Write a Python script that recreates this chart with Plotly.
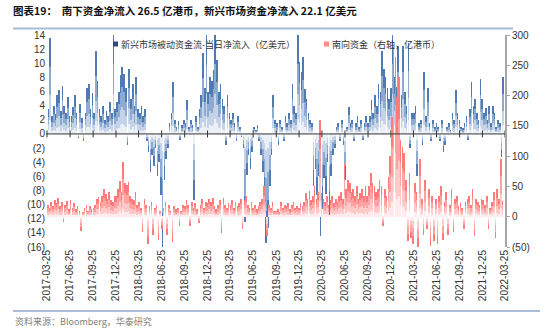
import plotly.graph_objects as go
import pandas as pd

TITLE = "图表19：  南下资金净流入 26.5 亿港币，新兴市场资金净流入 22.1 亿美元"
SOURCE = "资料来源：Bloomberg，华泰研究"
EM_NAME = "新兴市场被动资金流-当日净流入（亿美元）"
SB_NAME = "南向资金（右轴，亿港币）"

# Emerging-market passive fund flows, 亿美元 (left axis), weekly samples
em_flow = [
    3.5, 13.6, 2.5, 4.0, 2.8, 5.5, 6.2, 3.2, 6.8, 4.0, 3.0, 5.2, 2.5,
    2.5, 3.8, 5.5, 3.0, -0.6, 4.2, 2.2, -1.0, 3.0, 6.5, 7.0, 3.5, 5.8,
    3.0, 11.8, 7.5, 3.5, 2.5, 4.0, 2.0, 3.2, 2.5, 4.5, 3.0, 14.2, 3.5,
    4.5, 6.0, 8.3, 9.5, 8.5, 6.5, -1.6, 9.2, 5.0, 7.0, 4.0, 8.0, 3.5,
    3.0, 4.0, 2.5, 3.5, -1.0, -2.5, -5.4, -3.0, -4.5, -2.0, -6.0, -4.0, -8.7,
    -16.0, -6.5, -3.5, -2.0, 1.5, 3.0, 7.4, 2.0, 1.0, 1.8, -0.8, 1.2, 2.0,
    1.5, 4.8, 1.0, 2.0, 1.2, -9.3, 2.5, 1.0, 3.5, 5.5, 11.4, 6.5, 14.0,
    6.0, 8.0, 7.5, 9.0, 14.2, 10.4, 6.0, 7.0, 5.0, 4.0, -1.5, 5.5, 3.0,
    2.0, 3.0, 1.5, -1.0, 2.5, 1.0, -0.5, -2.0, -12.5, -5.8, -3.0, -4.9, -2.5,
    1.0, 0.5, 1.2, -1.0, -3.0, -5.4, -8.7, -15.5, -13.3, -7.3, -3.0, 5.5, 2.0,
    1.5, -1.5, 2.0, 1.0, -1.0, 2.5, 1.5, 3.0, 2.0, 7.1, 4.0, 3.0, 14.2,
    10.2, 8.8, 10.9, 6.4, 5.0, 3.0, 2.0, 1.5, -7.3, -5.0, -8.7, -6.0, -14.5,
    -10.6, -6.3, -8.5, -4.0, -11.5, -6.0, -3.0, -2.0, 1.0, 1.5, -1.0, 2.0, -1.5,
    -6.5, 1.0, 3.8, 1.5, 2.0, -1.0, 1.5, 2.5, 1.0, 2.0, -0.8, 1.5, 2.5,
    1.5, 2.5, 4.8, 3.0, 5.5, 4.0, 7.0, 6.0, 11.8, 9.2, 8.0, 6.5, 5.0,
    6.5, 14.2, 8.0, 6.7, 12.5, 7.0, 5.5, 12.5, 6.0, 4.0, 12.8, -2.0, 3.0,
    3.0, 4.0, -6.0, 1.5, 2.0, -1.5, 8.8, 2.5, 6.5, 1.5, -1.0, 2.0, 1.0,
    1.5, 1.0, -1.0, 2.0, -2.5, -1.5, 1.0, 1.5, 0.5, 3.0, 2.0, 6.2, 3.0,
    2.0, 1.0, 0.8, 1.5, 2.5, -0.8, 3.5, 7.4, 4.0, 5.0, 3.0, 2.0, 7.8,
    5.0, 3.0, 3.6, 2.0, 4.0, 1.5, 4.0, 3.0, 1.0, 2.0, 1.5, -3.3, 8.1,
]

# Southbound Stock Connect flows, 亿港币 (right axis), weekly samples
southbound = [
    20, 15, 25, 18, 28, 22, 31, 18, 24, -8, 20, 26, 12,
    28, 15, 22, 12, 18, 10, -24, 8, 15, 20, 10, 18, 12,
    15, 20, 30, 33, 25, 35, 45, 38, 30, 40, 28, 25, 35,
    35, 45, 59, 40, 90, 55, 52, 58, 35, 30, 28, 40, 20,
    25, 15, -25, 30, 20, -45, 18, 25, -30, 15, 20, -38, 10,
    -20, 15, 25, -30, 20, 10, -41, 18, 12, 15, -15, 10, 20,
    18, 28, 20, -15, 25, 15, 22, 12, -10, 20, 30, 15, 25,
    22, 30, 25, 31, 18, 12, 20, 28, -27, 31, 20, 15, 22,
    20, 28, 15, 25, 18, 22, 30, -20, 28, 35, 20, 15, 25,
    15, 20, 12, 18, 25, 30, 50, 35, -32, 20, 15, 25, 10,
    10, 12, 8, 25, 15, 20, 18, 22, 12, 20, 25, 15, 18,
    15, 22, 18, 25, 39, 30, 42, 28, 35, 50, 30, 40, 160,
    39, 30, 25, 35, 20, 28, 34, 22, 30, 25, 35, 40, 30,
    88, 45, 61, 55, 40, 45, 35, 50, 30, 39, 45, 35, 50,
    34, 50, 72, 55, 50, 40, 45, 60, 50, -15, 45, 35, 66,
    100, 165, 280, 264, 198, 230, 127, 115, 105, 60, -40, 72, -35,
    -45, 55, 40, -50, 95, 30, -30, 60, -20, 45, -48, 35, -40,
    30, -45, 34, 50, -38, 25, 40, -30, 20, 45, -25, 30, 35,
    17, 22, 15, -20, 25, 30, 34, 20, 45, -32, 30, 25, 20,
    30, 28, 20, 35, -20, 15, 25, 40, -35, 45, 30, 95, 26.5,
]

tick_dates = [
    "2017-03-25", "2017-06-25", "2017-09-25", "2017-12-25",
    "2018-03-25", "2018-06-25", "2018-09-25", "2018-12-25",
    "2019-03-25", "2019-06-25", "2019-09-25", "2019-12-25",
    "2020-03-25", "2020-06-25", "2020-09-25", "2020-12-25",
    "2021-03-25", "2021-06-25", "2021-09-25", "2021-12-25",
    "2022-03-25",
]
left_ticks = list(range(14, -17, -2))
right_ticks = list(range(300, -51, -50))

em_dates = pd.date_range("2017-03-31", periods=len(em_flow), freq="W-FRI")
sb_dates = pd.date_range("2017-03-28", periods=len(southbound), freq="W-TUE")

FONT = "Liberation Sans, Arial, Noto Sans CJK SC, sans-serif"
CJK = "Noto Sans CJK SC, sans-serif"
BAR_W = 2.6 * 86400000  # bar width in ms


def paren(v):
    return f"({abs(v)})" if v < 0 else str(v)


# plot area in pixels: x 46..505, y 35..247
PL, PR, PT, PB = 46, 505, 35, 247


def px(xp):
    return (xp - PL) / (PR - PL)


def py(yp):
    return (PB - yp) / (PB - PT)


fig = go.Figure()

# shaded bars: full length in the deep tone, inner parts paler toward the base
blue_tones = [(1.0, "#4f7bb2"), (0.7, "#8dabd1"), (0.4, "#c4d3e8"), (0.15, "#ebf0f7")]
red_tones = [(1.0, "#ff7b7b"), (0.7, "#ffa2a2"), (0.4, "#ffc9c9"), (0.15, "#ffebeb")]

for frac, col in blue_tones:
    fig.add_trace(go.Bar(
        x=em_dates, y=[v * frac for v in em_flow], width=BAR_W,
        marker=dict(color=col, line=dict(width=0)), yaxis="y",
        showlegend=False, hoverinfo="skip",
    ))
for frac, col in red_tones:
    fig.add_trace(go.Bar(
        x=sb_dates, y=[v * frac for v in southbound], width=BAR_W,
        marker=dict(color=col, line=dict(width=0)), yaxis="y2",
        showlegend=False, hoverinfo="skip",
    ))

# small quarter ticks on the zero line
fig.add_trace(go.Scatter(
    x=tick_dates, y=[0] * len(tick_dates), mode="markers", yaxis="y",
    marker=dict(symbol="line-ns", size=5, line=dict(color="#333333", width=1)),
    showlegend=False, hoverinfo="skip",
))

fig.update_layout(
    width=550, height=330,
    margin=dict(l=PL, r=550 - PR, t=PT, b=330 - PB),
    paper_bgcolor="white", plot_bgcolor="white",
    barmode="overlay", bargap=0,
    font=dict(family=FONT, size=10, color="#333333"),
    title=dict(
        text=TITLE, x=13 / 550, xanchor="left", y=1 - 11 / 330, yanchor="middle",
        font=dict(family=CJK, size=10.5, color="#111111", weight="bold"),
    ),
    xaxis=dict(
        type="date", range=["2017-03-21", "2022-03-25"],
        tickvals=tick_dates, ticktext=tick_dates, tickangle=-90,
        tickfont=dict(size=10, color="#333333"),
        showgrid=False, showline=False, ticks="", zeroline=False,
    ),
    yaxis=dict(
        range=[-16, 14], tickvals=left_ticks, ticktext=[paren(v) for v in left_ticks],
        tickfont=dict(size=10, color="#333333"),
        showgrid=False, showline=False, ticks="", zeroline=False,
    ),
    yaxis2=dict(
        range=[-50, 300], overlaying="y", side="right",
        tickvals=right_ticks, ticktext=[paren(v) for v in right_ticks],
        tickfont=dict(size=10, color="#333333"),
        showgrid=False, zeroline=False,
        showline=True, linecolor="#a6a6a6", linewidth=2,
        ticks="outside", ticklen=3, tickcolor="#a6a6a6",
    ),
    shapes=[
        # horizontal category axis crossing the left axis at zero, above the bars
        dict(type="line", xref="paper", yref="y", x0=0, x1=1, y0=0, y1=0,
             layer="above", line=dict(color="#333333", width=1)),
        dict(type="line", xref="paper", yref="paper", x0=px(13), x1=px(513),
             y0=py(28.5), y1=py(28.5), line=dict(color="#a9bdd8", width=2)),
        dict(type="line", xref="paper", yref="paper", x0=px(13), x1=px(540),
             y0=py(311), y1=py(311), line=dict(color="#a9bdd8", width=2)),
        dict(type="rect", xref="paper", yref="paper", x0=px(113), x1=px(118),
             y0=py(46.5), y1=py(41.5), line=dict(width=0), fillcolor="#1f4e8c"),
        dict(type="rect", xref="paper", yref="paper", x0=px(324), x1=px(329),
             y0=py(46.5), y1=py(41.5), line=dict(width=0), fillcolor="#ff8c8c"),
    ],
    annotations=[
        dict(text=EM_NAME, xref="paper", yref="paper", x=px(119), y=py(44),
             xanchor="left", yanchor="middle", showarrow=False,
             font=dict(family=CJK, size=9, color="#333333")),
        dict(text=SB_NAME, xref="paper", yref="paper", x=px(330), y=py(44),
             xanchor="left", yanchor="middle", showarrow=False,
             font=dict(family=CJK, size=9, color="#333333")),
        dict(text=SOURCE, xref="paper", yref="paper", x=px(13), y=py(321),
             xanchor="left", yanchor="middle", showarrow=False,
             font=dict(family=CJK, size=9, color="#7f7f7f")),
    ],
)

fig.write_html("out.html")
